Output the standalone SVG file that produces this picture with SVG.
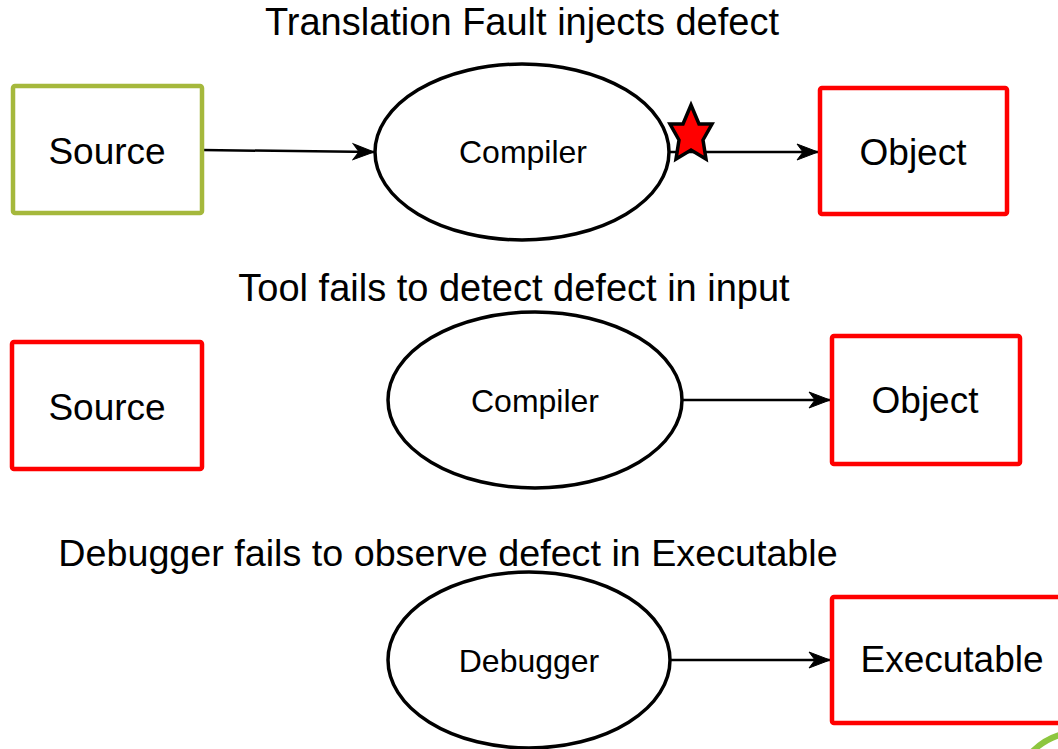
<svg xmlns="http://www.w3.org/2000/svg" width="1058" height="749" viewBox="0 0 1058 749">
<defs>
<marker id="arr" markerWidth="24" markerHeight="20" refX="22" refY="10" orient="auto" markerUnits="userSpaceOnUse">
<path d="M1,2 L22,10 L1,18 L7,10 Z" fill="#000" stroke="#000" stroke-width="1" stroke-linejoin="miter"/>
</marker>
<style>
text{font-family:"Liberation Sans",Arial,Helvetica,sans-serif;fill:#000}
.title{font-size:38px;text-anchor:middle}
.big{font-size:37px;text-anchor:middle}
.small{font-size:32px;text-anchor:middle}
.box{fill:#fff;stroke-width:4.5}
.red{stroke:#ff0000}
.grn{stroke:#a5b83c}
.ell{fill:#fff;stroke:#000;stroke-width:3.5}
.edge{fill:none;stroke:#000;stroke-width:2.5}
</style>
</defs>
<rect width="1058" height="749" fill="#fff"/>
<g id="titles">
<text class="title" x="522" y="35">Translation Fault injects defect</text>
<text class="title" x="514" y="301">Tool fails to detect defect in input</text>
<text class="title" x="448" y="566" style="font-size:37.7px">Debugger fails to observe defect in Executable</text>
</g>
<g id="connectors">
<path class="edge" d="M202,150 L374,152" marker-end="url(#arr)"/>
<path class="edge" d="M669,152 L818,152" marker-end="url(#arr)"/>
<path class="edge" d="M683,400 L830,400" marker-end="url(#arr)"/>
<path class="edge" d="M670,660 L830,660" marker-end="url(#arr)"/>
</g>
<g id="source1"><rect class="box grn" x="13" y="86" width="189" height="127" rx="2"/><text class="big" x="107" y="164">Source</text></g>
<g id="compiler1"><ellipse class="ell" cx="522" cy="152" rx="147" ry="88"/><text class="small" x="523" y="163">Compiler</text></g>
<g id="object1"><rect class="box red" x="820" y="88" width="187" height="126" rx="2"/><text class="big" x="913" y="165">Object</text></g>
<g id="star"><polygon points="691,105 699,124 712,124 703,140 706,159 691,150 676,159 679,140 670,124 683,124" fill="#ff0000" stroke="#000" stroke-width="3.5" stroke-linejoin="miter"/></g>
<g id="source2"><rect class="box red" x="12" y="342" width="190" height="127" rx="2"/><text class="big" x="107" y="420">Source</text></g>
<g id="compiler2"><ellipse class="ell" cx="535" cy="400" rx="147" ry="88"/><text class="small" x="535" y="412">Compiler</text></g>
<g id="object2"><rect class="box red" x="832" y="336" width="188" height="128" rx="2"/><text class="big" x="925" y="413">Object</text></g>
<g id="debugger"><ellipse class="ell" cx="529" cy="660" rx="141" ry="88"/><text class="small" x="529" y="672">Debugger</text></g>
<g id="executable"><rect class="box red" x="832" y="597" width="240" height="126" rx="2"/><text class="big" x="952" y="672">Executable</text></g>
<g id="logo"><circle cx="1080" cy="800" r="68" fill="none" stroke="#8dc63f" stroke-width="6"/></g>
</svg>
